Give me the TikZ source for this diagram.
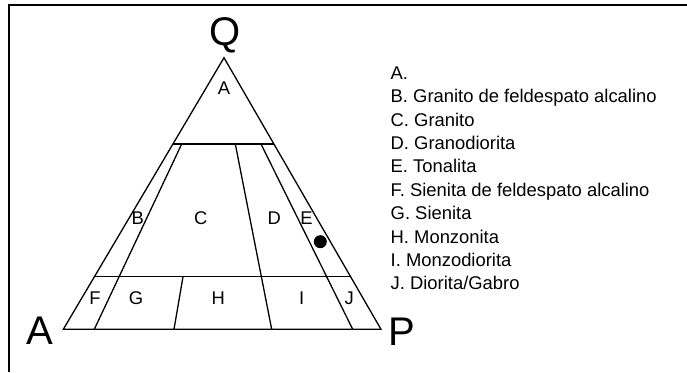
\documentclass[tikz,border=0pt]{standalone}
\usepackage{fontspec}
\setmainfont{Liberation Sans}
\usetikzlibrary{positioning}

\begin{document}
\begin{tikzpicture}[x=1pt,y=-1pt]
\tikzset{
  edge/.style={line width=1.3pt,line join=miter},
  framerule/.style={line width=2pt},
  zonelabel/.style={inner sep=0pt,anchor=base,font=\fontsize{18.4}{19}\selectfont},
  cornerlabel/.style={inner sep=0pt,anchor=base,font=\fontsize{40}{40}\selectfont},
  legendline/.style={inner sep=0pt,anchor=base west,font=\fontsize{18.4}{19}\selectfont},
  sample/.style={circle,fill=black,inner sep=0pt,minimum size=13pt}
}
\useasboundingbox (0,0) rectangle (687,372);
% frame
\coordinate (f_TL) at (9,5);
\coordinate (f_TR) at (687,5);
\coordinate (f_BL) at (9,372);
\draw[framerule] (f_TR) -- (f_TL) -- (f_BL);
% triangle vertices
\coordinate (v_Q) at (224.0,57.7);
\coordinate (v_A) at (63.3,329.3);
\coordinate (v_P) at (381.0,329.3);
% horizontal lines
\coordinate (u_L) at (172.9,144.0);
\coordinate (u_R) at (273.9,144.0);
\coordinate (l_L) at (94.5,276.7);
\coordinate (l_R) at (350.5,276.7);
% dividing lines
\coordinate (u_1) at (181.7,144.0);
\coordinate (u_2) at (235.3,144.0);
\coordinate (u_3) at (261.0,144.0);
\coordinate (b_1) at (94.3,329.3);
\coordinate (b_2) at (174.0,329.3);
\coordinate (b_3) at (271.7,329.3);
\coordinate (b_4) at (352.7,329.3);
\coordinate (l_2) at (183.0,276.7);
\draw[edge] (v_A) -- (v_P) -- (v_Q) -- cycle;
\draw[edge] (u_L) -- (u_R);
\draw[edge] (l_L) -- (l_R);
\draw[edge] (u_1) -- (b_1);
\draw[edge] (u_2) -- (b_3);
\draw[edge] (u_3) -- (b_4);
\draw[edge] (l_2) -- (b_2);
% corner labels
\node[cornerlabel] (c_Q) at (225.0,45.5) {Q};
\node[cornerlabel] (c_A) at (40.3,344.5) {A};
\node[cornerlabel] (c_P) at (401.5,345.0) {P};
% zone labels
\node[zonelabel] (r_A) at (224.0,94.9) {A};
\node[zonelabel] (r_B) at (137.7,224.9) {B};
\node[zonelabel] (r_C) at (200.7,224.9) {C};
\node[zonelabel] (r_D) at (274.3,224.9) {D};
\node[zonelabel] (r_E) at (306.5,224.4) {E};
\node[zonelabel] (r_F) at (95.0,304.3) {F};
\node[zonelabel] (r_G) at (136.0,304.3) {G};
\node[zonelabel] (r_H) at (218.3,304.3) {H};
\node[zonelabel] (r_I) at (301.7,304.3) {I};
\node[zonelabel] (r_J) at (349.3,304.3) {J};
\node[sample] (s_1) at (320.3,241.7) {};
% legend
\node[legendline] (k_A) at (390.5,79.3) {A.};
\node[legendline] (k_B) at (390.5,102.7) {B. Granito de feldespato alcalino};
\node[legendline] (k_C) at (390.5,126.1) {C. Granito};
\node[legendline] (k_D) at (390.5,149.5) {D. Granodiorita};
\node[legendline] (k_E) at (390.5,172.9) {E. Tonalita};
\node[legendline] (k_F) at (390.5,196.3) {F. Sienita de feldespato alcalino};
\node[legendline] (k_G) at (390.5,219.7) {G. Sienita};
\node[legendline] (k_H) at (390.5,243.1) {H. Monzonita};
\node[legendline] (k_I) at (390.5,266.5) {I. Monzodiorita};
\node[legendline] (k_J) at (390.5,289.9) {J. Diorita/Gabro};
\end{tikzpicture}
\end{document}
